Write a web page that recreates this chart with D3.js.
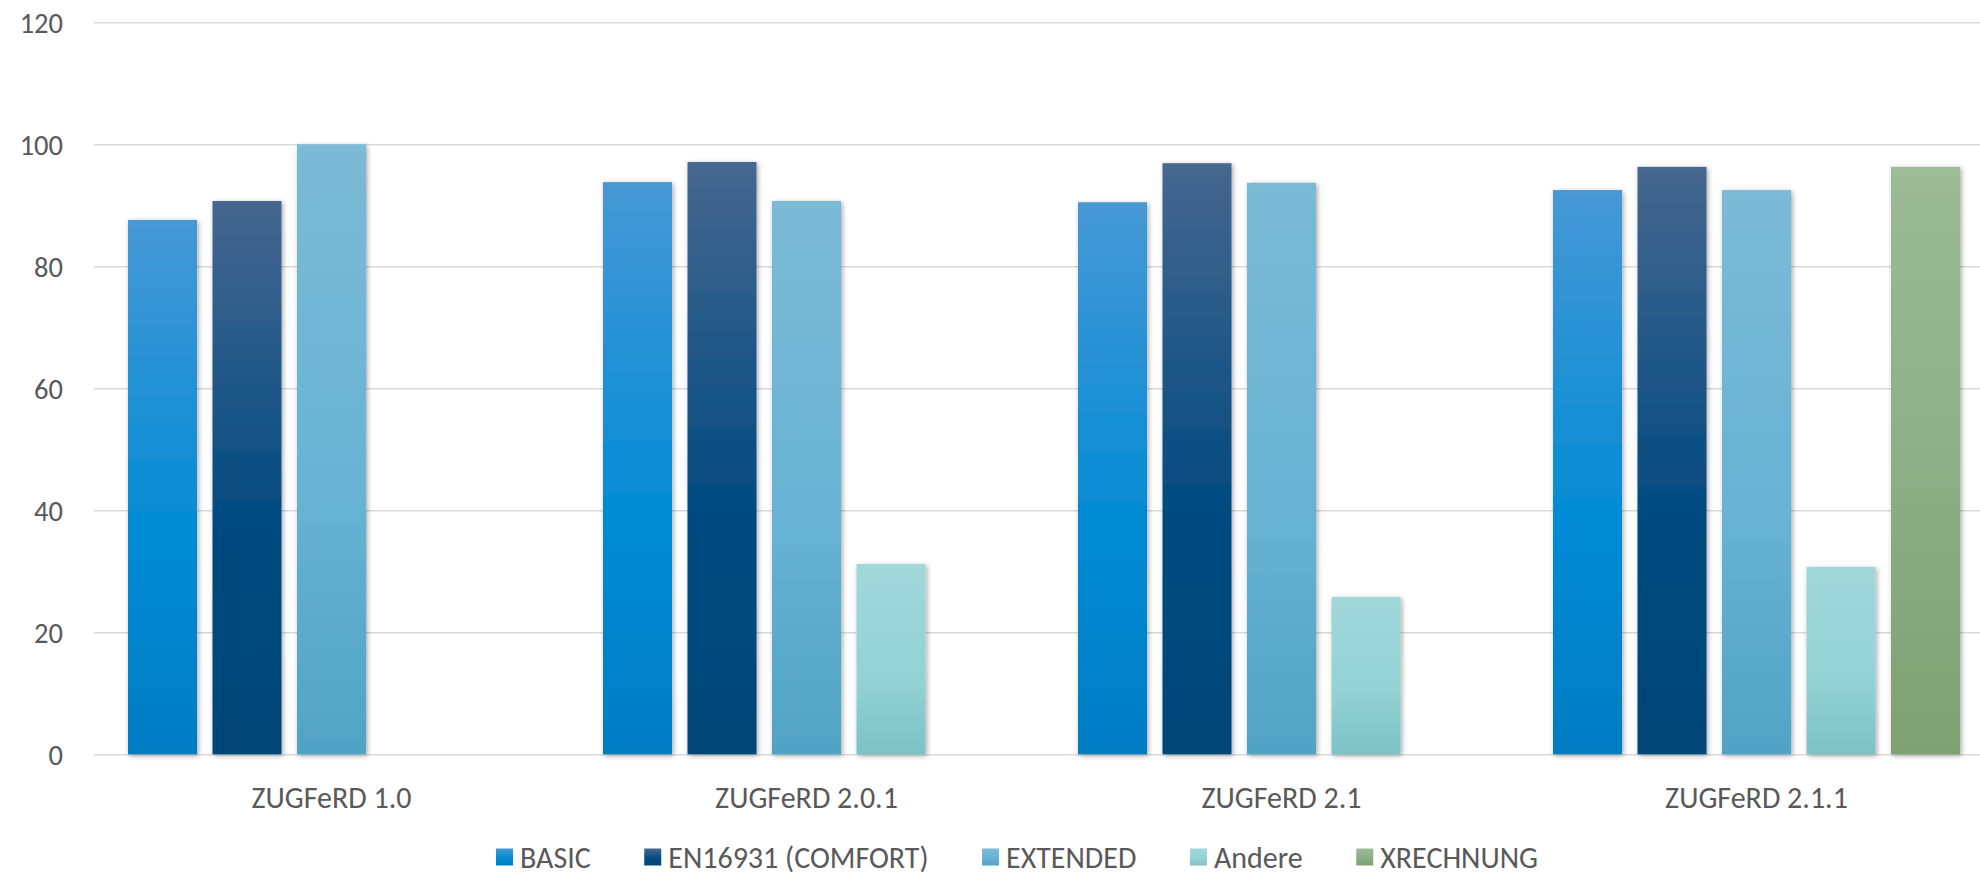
<!DOCTYPE html>
<html>
<head>
<meta charset="utf-8">
<script src="https://cdn.jsdelivr.net/npm/d3@7"></script>
<style>
  body { margin: 0; background: #fff; }
  svg { display: block; }
  svg text { font-family: Carlito, Lato, "Open Sans", sans-serif; }
  .grid line { stroke: #d9d9d9; stroke-width: 1.5; }
  .grid text { fill: #595959; font-size: 28.5px; }
</style>
</head>
<body>
<svg id="chart"></svg>
<script>
// chart data
const categories = ["ZUGFeRD 1.0", "ZUGFeRD 2.0.1", "ZUGFeRD 2.1", "ZUGFeRD 2.1.1"];
const seriesNames = ["BASIC", "EN16931 (COMFORT)", "EXTENDED", "Andere", "XRECHNUNG"];
const basicValues = [87.6, 93.8, 90.5, 92.5];
const comfortValues = [90.7, 97.1, 96.9, 96.3];
const extendedValues = [100, 90.7, 93.7, 92.5];
const andereValues = [null, 31.2, 25.8, 30.7];
const xrechnungValues = [null, null, null, 96.3];
const yTicks = [0, 20, 40, 60, 80, 100, 120];

const seriesValues = [basicValues, comfortValues, extendedValues, andereValues, xrechnungValues];

// gradient stops per series (top, middle, bottom)
const gradients = [
    ["#4798d5", "#008bd4", "#007cc3"],
    ["#46678f", "#004a80", "#004677"],
    ["#7bbad6", "#66b2d3", "#50a3c4"],
    ["#a1d8da", "#93d2d4", "#7dc2c3"],
    ["#9cbb96", "#8aac83", "#7ea172"]
];

// canvas
const canvWidth = 1980;
const canvHeight = 875;
const margin = { top: 22.3, left: 94 };
const plotWidth = 1900;
const plotBottom = 754.3;

const svg = d3.select("#chart")
    .attr("width", canvWidth)
    .attr("height", canvHeight);

// defs: gradients and shadow
const defs = svg.append("defs");
gradients.forEach(function (g, i) {
    const lg = defs.append("linearGradient")
        .attr("id", "grad" + i)
        .attr("x1", 0).attr("y1", 0).attr("x2", 0).attr("y2", 1);
    lg.append("stop").attr("offset", "0%").attr("stop-color", g[0]);
    lg.append("stop").attr("offset", "60%").attr("stop-color", g[1]);
    lg.append("stop").attr("offset", "100%").attr("stop-color", g[2]);
});
defs.append("filter")
    .attr("id", "shadow")
    .attr("x", "-20%").attr("y", "-10%").attr("width", "140%").attr("height", "120%")
    .append("feDropShadow")
    .attr("dx", 1.5).attr("dy", 1.5)
    .attr("stdDeviation", 2.5)
    .attr("flood-color", "#000")
    .attr("flood-opacity", 0.35);

// scales
const x0 = d3.scaleBand()
    .domain(categories)
    .range([margin.left, margin.left + plotWidth])
    .padding(0);

const x1 = d3.scaleBand()
    .domain(seriesNames)
    .range([34, x0.bandwidth() - 34])
    .paddingInner(0.1834);

const y = d3.scaleLinear()
    .domain([0, 120])
    .range([plotBottom, margin.top]);

// y axis with gridlines
const yAxis = svg.append("g")
    .attr("class", "grid")
    .attr("transform", "translate(" + margin.left + ",0)")
    .call(d3.axisLeft(y)
        .tickValues(yTicks)
        .tickSize(-plotWidth)
        .tickPadding(31));
yAxis.select(".domain").remove();
yAxis.attr("font-family", null).attr("font-size", null);
yAxis.selectAll("text").attr("dy", "0.36em");

// bars
const groups = svg.selectAll(".cat")
    .data(categories)
    .enter().append("g")
    .attr("class", "cat")
    .attr("transform", function (d) { return "translate(" + x0(d) + ",0)"; });

groups.selectAll("rect")
    .data(function (d, ci) {
        return seriesNames.map(function (s, si) {
            return { series: s, idx: si, value: seriesValues[si][ci] };
        }).filter(function (e) { return e.value !== null; });
    })
    .enter().append("rect")
    .attr("x", function (d) { return x1(d.series); })
    .attr("y", function (d) { return y(d.value); })
    .attr("width", x1.bandwidth())
    .attr("height", function (d) { return y(0) - y(d.value); })
    .attr("fill", function (d) { return "url(#grad" + d.idx + ")"; })
    .attr("filter", "url(#shadow)");

// category labels
svg.selectAll(".catlabel")
    .data(categories)
    .enter().append("text")
    .attr("class", "catlabel")
    .attr("x", function (d) { return x0(d) + x0.bandwidth() / 2; })
    .attr("y", 797)
    .attr("dy", "0.36em")
    .attr("text-anchor", "middle")
    .attr("fill", "#595959")
    .style("font-size", "30px")
    .text(function (d) { return d; });

// legend
const legend = svg.append("g").attr("class", "legend");
const items = legend.selectAll("g")
    .data(seriesNames)
    .enter().append("g");
items.append("rect")
    .attr("width", 17).attr("height", 17)
    .attr("y", 857 - 8.5)
    .attr("fill", function (d, i) { return "url(#grad" + i + ")"; });
items.append("text")
    .attr("x", 24)
    .attr("y", 857)
    .attr("dy", "0.36em")
    .attr("fill", "#595959")
    .style("font-size", "30px")
    .text(function (d) { return d; });

// place legend items side by side, centered, spanning like the original
const legendSpan = 1042;
const widths = [];
items.each(function () { widths.push(this.getBBox().width); });
const gap = (legendSpan - d3.sum(widths)) / (widths.length - 1);
let offset = 0;
const positions = widths.map(function (w) {
    const p = offset;
    offset += w + gap;
    return p;
});
const legendStart = 1017 - legendSpan / 2;
items.attr("transform", function (d, i) {
    return "translate(" + (legendStart + positions[i]) + ",0)";
});
</script>
</body>
</html>
